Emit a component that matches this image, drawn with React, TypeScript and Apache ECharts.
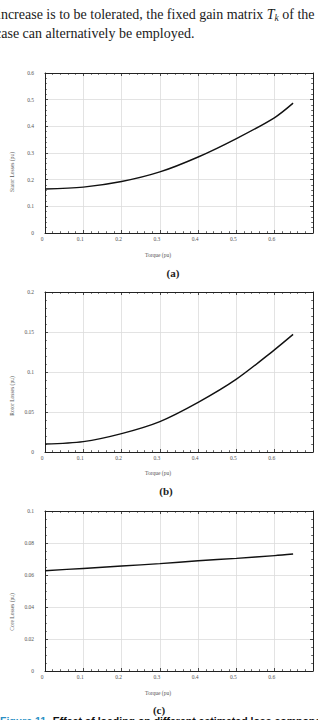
import React, { useEffect, useRef } from 'react';
import * as echarts from 'echarts';

// Torque (pu) sample points
const torque = [0, 0.1, 0.2, 0.3, 0.4, 0.5, 0.6, 0.648];
// (a) Stator losses (pu)
const statorLosses = [0.165, 0.172, 0.193, 0.229, 0.285, 0.354, 0.433, 0.487];
// (b) Rotor losses (pu)
const rotorLosses = [0.010, 0.013, 0.023, 0.038, 0.062, 0.091, 0.128, 0.147];
// (c) Core losses (pu)
const coreLosses = [0.0627, 0.0641, 0.0656, 0.0671, 0.0689, 0.0704, 0.0721, 0.0731];

const yMaxes = [0.6, 0.2, 0.1];
const yIntervals = [0.1, 0.05, 0.02];
const yMinorSplits = [5, 5, 4];
const yNames = ['Stator Losses (pu)', 'Rotor Losses (pu)', 'Core Losses (pu)'];
const panelLabels = ['(a)', '(b)', '(c)'];
const xName = 'Torque (pu)';
const xMax = 0.7;
const xInterval = 0.1;
const textLine1 = 'increase is to be tolerated, the fixed gain matrix {i|T}{s|k} of the';
const textLine2 = 'case can alternatively be employed.';
const captionNum = 'Figure 11';
const captionText = 'Effect of loading on different estimated loss components.';

const seriesData = [statorLosses, rotorLosses, coreLosses];

const AXIS_COLOR = '#222';
const LABEL_FONT = 'Liberation Serif';

function fmt(v: number) {
  return String(Math.round(v * 1000) / 1000);
}

export default function App() {
  const ref = useRef<HTMLDivElement>(null);
  useEffect(() => {
    if (!ref.current) return;
    const chart = echarts.init(ref.current, null, { renderer: 'svg' });
    const tops = [73, 292, 511];
    const grids = tops.map((t) => ({ left: 45, top: t, width: 268, height: 160, containLabel: false }));
    const xAxis: any[] = [];
    const yAxis: any[] = [];
    const series: any[] = [];
    tops.forEach((_, gi) => {
      const tickCommon = {
        axisLine: { show: true, onZero: false, lineStyle: { color: AXIS_COLOR, width: 1 } },
        axisTick: { show: true, inside: true, length: 3, lineStyle: { color: AXIS_COLOR, width: 0.8 } },
      };
      xAxis.push({
        type: 'value', gridIndex: gi, min: 0, max: xMax, interval: xInterval, position: 'bottom',
        ...tickCommon,
        minorTick: { show: true, splitNumber: 5, length: 1.8, lineStyle: { color: AXIS_COLOR, width: 0.7 } },
        splitLine: { show: true, lineStyle: { color: '#dcdcdc', width: 0.8 } },
        axisLabel: {
          show: true, fontSize: 5.5, color: '#555', fontFamily: LABEL_FONT, margin: 3,
          padding: [0, 6, 0, 0],
          formatter: (v: number) => (v > xMax - 0.05 ? '' : fmt(v)),
        },
      });
      xAxis.push({
        type: 'value', gridIndex: gi, min: 0, max: xMax, interval: xInterval, position: 'top',
        ...tickCommon,
        minorTick: { show: true, splitNumber: 5, length: 1.8, lineStyle: { color: AXIS_COLOR, width: 0.7 } },
        splitLine: { show: false },
        axisLabel: { show: false },
      });
      yAxis.push({
        type: 'value', gridIndex: gi, min: 0, max: yMaxes[gi], interval: yIntervals[gi], position: 'left',
        ...tickCommon,
        minorTick: { show: true, splitNumber: yMinorSplits[gi], length: 1.8, lineStyle: { color: AXIS_COLOR, width: 0.7 } },
        splitLine: { show: true, lineStyle: { color: '#dcdcdc', width: 0.8 } },
        axisLabel: {
          show: true, fontSize: 5.5, color: '#555', fontFamily: LABEL_FONT, margin: 11,
          padding: [0, 0, 8, 0],
          formatter: (v: number) => fmt(v),
        },
      });
      yAxis.push({
        type: 'value', gridIndex: gi, min: 0, max: yMaxes[gi], interval: yIntervals[gi], position: 'right',
        ...tickCommon,
        minorTick: { show: true, splitNumber: yMinorSplits[gi], length: 1.8, lineStyle: { color: AXIS_COLOR, width: 0.7 } },
        splitLine: { show: false },
        axisLabel: { show: false },
      });
      series.push({
        type: 'line', xAxisIndex: gi * 2, yAxisIndex: gi * 2, smooth: 0.3, symbol: 'none',
        lineStyle: { color: '#111', width: 1.4 },
        data: torque.map((x, i) => [x, seriesData[gi][i]]),
      });
    });

    const yNameCenters = [172, 396, 612];
    const xNameY = [255, 473, 693];
    const panelX = [173, 166, 159];
    const panelY = [273, 491, 710];
    const graphic: any[] = [];
    tops.forEach((_, gi) => {
      graphic.push({
        type: 'text', x: 12, y: yNameCenters[gi], rotation: Math.PI / 2,
        style: { text: yNames[gi], fontSize: 5.5, fill: '#555', fontFamily: LABEL_FONT, align: 'center', verticalAlign: 'middle' },
      });
      graphic.push({
        type: 'text', x: 158, y: xNameY[gi],
        style: { text: xName, fontSize: 5.5, fill: '#555', fontFamily: LABEL_FONT, align: 'center', verticalAlign: 'middle' },
      });
      graphic.push({
        type: 'text', x: panelX[gi], y: panelY[gi],
        style: { text: panelLabels[gi], fontSize: 11, fontWeight: 'bold', fill: '#222', fontFamily: LABEL_FONT, align: 'center', verticalAlign: 'middle' },
      });
    });
    graphic.push({
      type: 'text', x: -3, y: 14,
      style: {
        text: textLine1, fontSize: 14, fill: '#1a1a1a', fontFamily: LABEL_FONT, verticalAlign: 'middle',
        rich: {
          i: { fontStyle: 'italic', fontSize: 14, fontFamily: LABEL_FONT, fill: '#1a1a1a' },
          s: { fontStyle: 'italic', fontSize: 9.5, fontFamily: LABEL_FONT, fill: '#1a1a1a', padding: [8, 0, 0, 0] },
        },
      },
    });
    graphic.push({
      type: 'text', x: -5, y: 33,
      style: { text: textLine2, fontSize: 14, fill: '#1a1a1a', fontFamily: LABEL_FONT, verticalAlign: 'middle' },
    });
    graphic.push({
      type: 'text', x: 0, y: 715,
      style: {
        text: '{n|' + captionNum + '}  {b|' + captionText + '}', verticalAlign: 'top',
        rich: {
          n: { fontSize: 10.5, fontWeight: 'bold', fill: '#2a8fc4', fontFamily: 'Liberation Sans' },
          b: { fontSize: 10.5, fontWeight: 'bold', fill: '#111', fontFamily: 'Liberation Sans' },
        },
      },
    });

    chart.setOption({
      animation: false,
      backgroundColor: '#fff',
      grid: grids,
      xAxis,
      yAxis,
      series,
      graphic,
    });
    return () => chart.dispose();
  }, []);
  return <div ref={ref} style={{ position: 'absolute', left: 0, top: 0, width: 318, height: 720 }} />;
}
